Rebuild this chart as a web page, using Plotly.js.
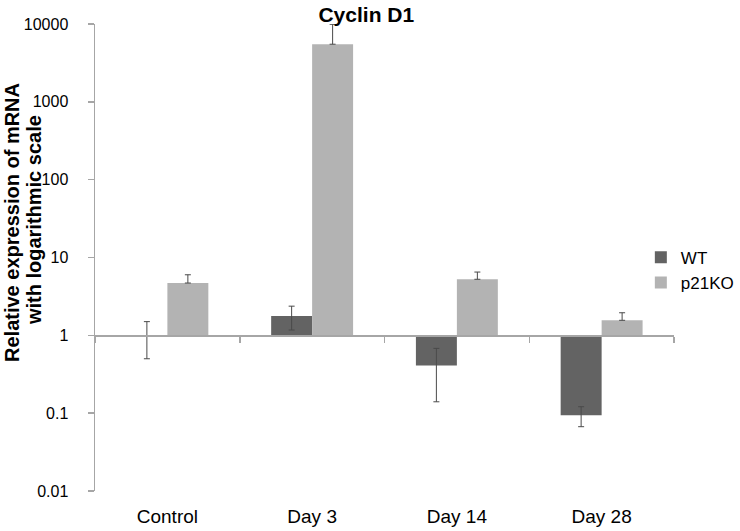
<!DOCTYPE html>
<html>
<head>
<meta charset="utf-8">
<script src="https://cdn.plot.ly/plotly-3.0.1.min.js"></script>
<style>html,body{margin:0;padding:0;background:#fff;}#chart{width:740px;height:531px;}</style>
</head>
<body>
<div id="chart"></div>
<script>
const categories = ["Control", "Day 3", "Day 14", "Day 28"];
const wtValues = [1.0, 1.77, 0.41, 0.094];
const wtErrors = [0.5, 0.6, 0.27, 0.027];
const koValues = [4.7, 5500, 5.25, 1.56];
const koErrorsPlus = [1.3, 4400, 1.25, 0.39];
const koErrorsMinus = [0, 0, 0, 0];
const yTickVals = [0.01, 0.1, 1, 10, 100, 1000, 10000];
const yTickText = ["0.01", "0.1", "1", "10", "100", "1000", "10000"];
const yTitleLines = ["Relative expression of mRNA", "with logarithmic scale"];
const baseline = 1;

const font = "Liberation Sans, Arial, sans-serif";

function barTrace(name, vals, errPlus, errMinus, color) {
  return {
    type: "bar",
    name: name,
    x: categories,
    y: vals.map(v => v - baseline),
    base: vals.map(() => baseline),
    marker: {color: color, line: {width: 0}},
    error_y: {type: "data", symmetric: false, array: errPlus, arrayminus: errMinus, visible: true, color: "#4a4a4a", thickness: 1, width: 3},
    hoverinfo: "skip"
  };
}

const data = [
  barTrace("WT", wtValues, wtErrors, wtErrors, "#636363"),
  barTrace("p21KO", koValues, koErrorsPlus, koErrorsMinus, "#b3b3b3")
];

const titleX = [-0.1434, -0.1054];
const titleY = [0.576, 0.580];

const layout = {
  width: 740, height: 531,
  margin: {l: 95, r: 66, t: 24, b: 40, autoexpand: false},
  paper_bgcolor: "#fff", plot_bgcolor: "#fff",
  font: {family: font, size: 16, color: "#000"},
  title: {text: "<b>Cyclin D1</b>", font: {family: font, size: 21, color: "#000"}, xref: "container", x: 0.495, xanchor: "center", yref: "container", y: 0.972, yanchor: "middle"},
  barmode: "group",
  bargap: 0.434,
  bargroupgap: 0,
  showlegend: true,
  legend: {xref: "container", x: 0.866, xanchor: "left", yref: "container", y: 0.491, yanchor: "middle", font: {family: font, size: 17, color: "#000"}, itemwidth: 30, tracegroupgap: 0, bgcolor: "rgba(0,0,0,0)"},
  xaxis: {
    type: "category",
    range: [-0.5, 3.5],
    anchor: "free", position: 1/3,
    tickson: "boundaries",
    showgrid: false, zeroline: false,
    showline: true, linecolor: "#a6a6a6", linewidth: 1.5,
    ticks: "outside", ticklen: 6, tickcolor: "#a6a6a6", tickwidth: 1.5,
    ticklabelstandoff: 163,
    tickfont: {family: font, size: 19, color: "#000"}
  },
  yaxis: {
    type: "log", range: [-2, 4],
    tickmode: "array", tickvals: yTickVals, ticktext: yTickText,
    showgrid: false, zeroline: false,
    showline: true, linecolor: "#a6a6a6", linewidth: 1.5,
    ticks: "outside", ticklen: 6, tickcolor: "#a6a6a6", tickwidth: 1.5,
    ticklabelstandoff: 16,
    tickfont: {family: font, size: 16, color: "#000"}
  },
  annotations: yTitleLines.map((t, i) => ({
    text: "<b>" + t + "</b>",
    xref: "paper", yref: "paper", x: titleX[i], y: titleY[i],
    xanchor: "center", yanchor: "middle", textangle: -90, showarrow: false,
    font: {family: font, size: 20, color: "#000"}
  }))
};

Plotly.newPlot("chart", data, layout, {displayModeBar: false, staticPlot: true});
</script>
</body>
</html>
